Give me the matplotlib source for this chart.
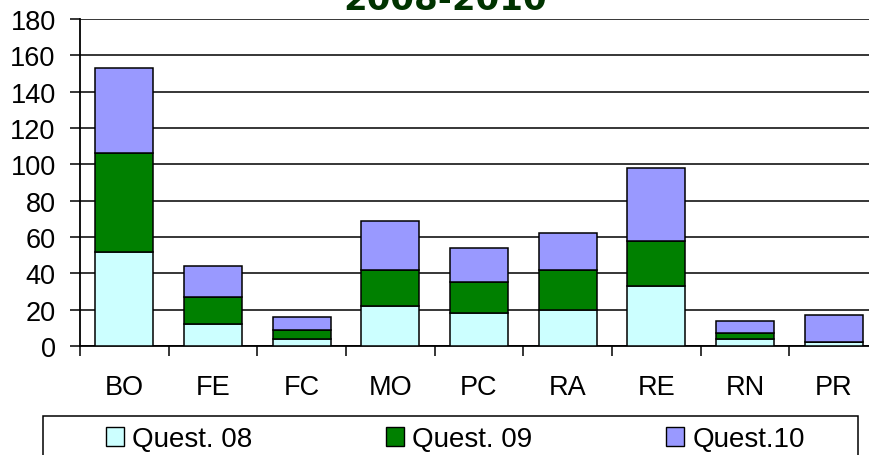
import matplotlib
matplotlib.use('Agg')
import matplotlib.pyplot as plt
import numpy as np
from matplotlib.patches import Patch, Rectangle

plt.rcParams['font.family'] = ['Liberation Sans', 'DejaVu Sans']

categories = ['BO', 'FE', 'FC', 'MO', 'PC', 'RA', 'RE', 'RN', 'PR']
quest08 = [52, 12, 4, 22, 18, 20, 33, 4, 2]
quest09 = [54, 15, 5, 20, 17, 22, 25, 3, 0]
quest10 = [47, 17, 7, 27, 19, 20, 40, 7, 15]
labels = ['Quest. 08', 'Quest. 09', 'Quest.10']
colors = ['#ccffff', '#008000', '#9999ff']

W, H = 870, 456
fig = plt.figure(figsize=(W / 100, H / 100), dpi=100)
# plot area in pixels: x 80..878, y 20..347
ax = fig.add_axes([80 / W, 1 - 347 / H, 798 / W, 327 / H])

x = np.arange(len(categories))
b08 = np.array(quest08)
b09 = np.array(quest09)
b10 = np.array(quest10)

ax.bar(x, b08, width=0.655, color=colors[0], edgecolor='black', linewidth=1.1, zorder=3)
ax.bar(x, b09, width=0.655, bottom=b08, color=colors[1], edgecolor='black', linewidth=1.1, zorder=3)
ax.bar(x, b10, width=0.655, bottom=b08 + b09, color=colors[2], edgecolor='black', linewidth=1.1, zorder=3)

ax.set_xlim(-0.5, len(categories) - 0.5)
ax.set_ylim(0, 180)
ax.set_yticks(np.arange(0, 181, 20))
ax.yaxis.grid(True, color='black', linewidth=1.1, zorder=0)

# category labels centred, tick marks between categories
ax.set_xticks(x)
ax.set_xticklabels(categories, fontsize=19.5)
ax.tick_params(axis='x', length=0, pad=20)
ax.set_xticks(np.arange(-0.5, len(categories), 1), minor=True)
ax.tick_params(axis='x', which='minor', length=7.5, width=1.1, direction='out')
ax.tick_params(axis='y', labelsize=19.5, length=7.5, width=1.1, direction='out', pad=10)

for s in ['top', 'right']:
    ax.spines[s].set_visible(False)
ax.spines['left'].set_linewidth(1.3)
ax.spines['bottom'].set_linewidth(1.3)

fig.text(445 / W, 1 - 10 / H, '2008-2010', ha='center', va='baseline', fontsize=24.5,
         fontweight='bold', color='#003300', family='DejaVu Sans')

# legend frame runs past the bottom edge
fig.patches.append(Rectangle((43 / W, -0.05), 815 / W, 0.05 + 1 - 417 / H,
                             transform=fig.transFigure, facecolor='white',
                             edgecolor='black', linewidth=1.1))

handles = [Patch(facecolor=c, edgecolor='black') for c in colors]
fig.legend(handles, labels, loc='center left', bbox_to_anchor=(106 / W, 1 - 440 / H),
           ncol=3, fontsize=20, frameon=False, handlelength=0.65, handleheight=0.65,
           handletextpad=0.3, columnspacing=4.8, borderpad=0, borderaxespad=0)

fig.savefig('out.png', dpi=100)
